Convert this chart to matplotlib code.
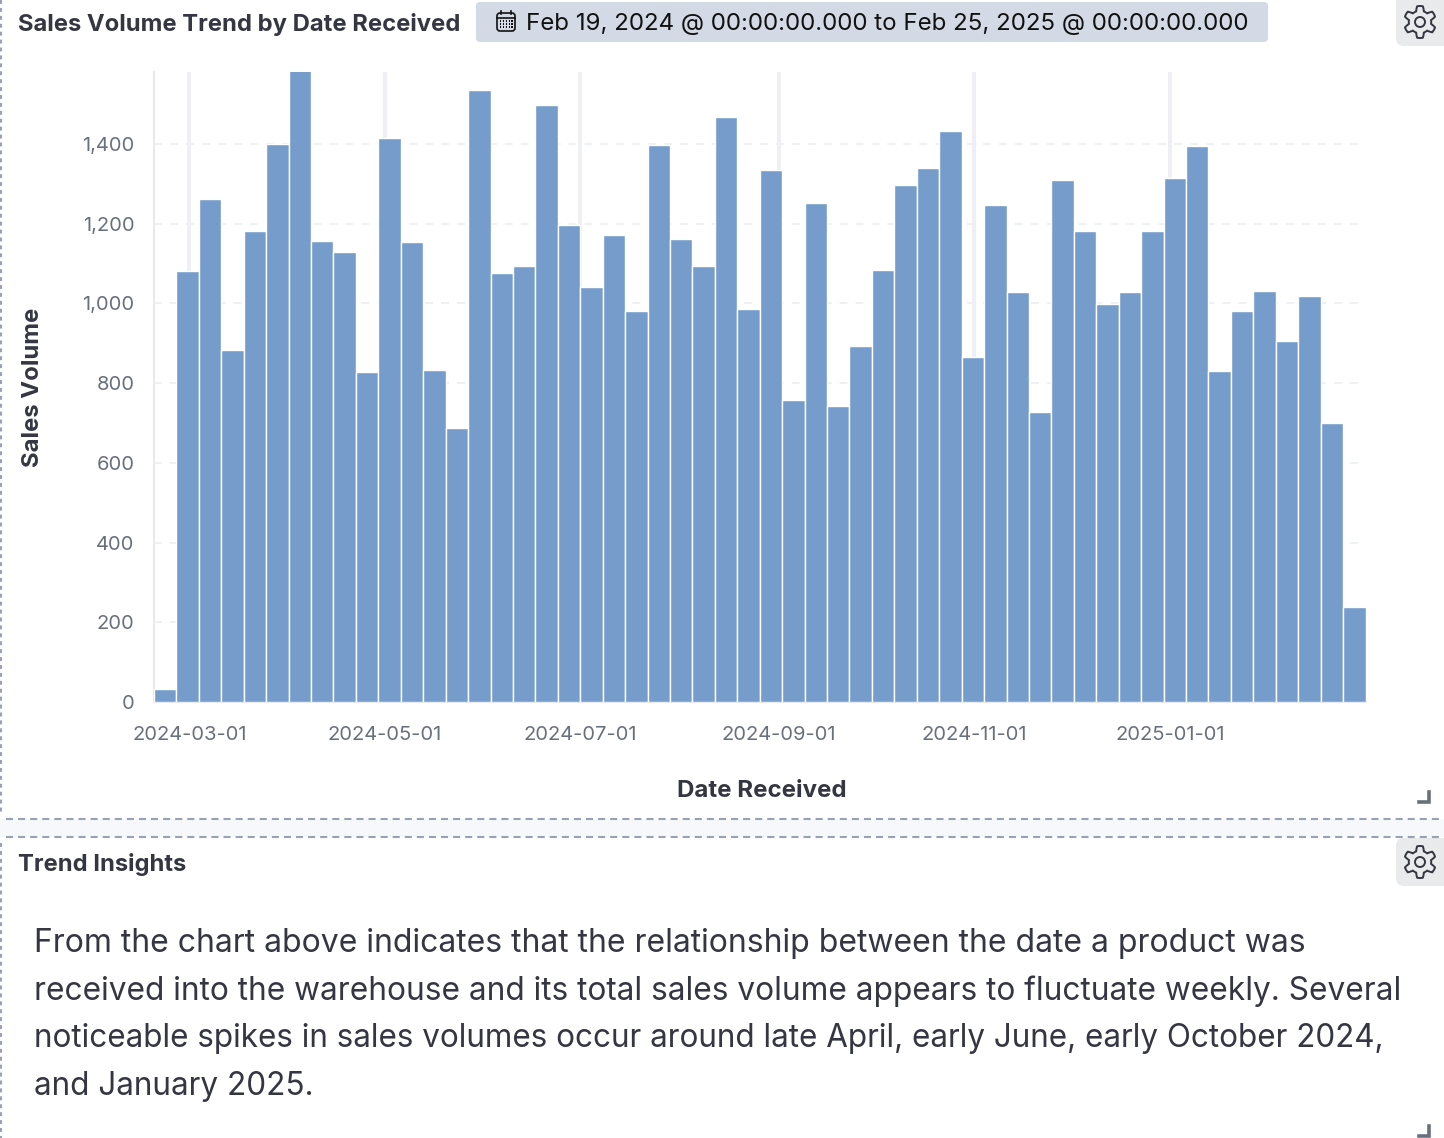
import numpy as np
import pandas as pd
import matplotlib
matplotlib.use("Agg")
import matplotlib.pyplot as plt
import matplotlib.dates as mdates
from matplotlib.patches import FancyBboxPatch, Rectangle, Polygon, Circle
from matplotlib.ticker import FuncFormatter

week_start = "2024-02-19"
sales_volume = [32, 1082, 1262, 882, 1182, 1400, 1590, 1156, 1129, 827, 1415, 1154, 832, 687,
                1536, 1076, 1094, 1498, 1197, 1041, 1171, 981, 1398, 1162, 1094, 1466, 985,
                1333, 757, 1252, 742, 892, 1084, 1297, 1338, 1433, 865, 1247, 1029, 727, 1308,
                1182, 998, 1029, 1182, 1315, 1395, 830, 981, 1032, 905, 1018, 699, 238]
y_ticks = [0, 200, 400, 600, 800, 1000, 1200, 1400]
x_ticks = ["2024-03-01", "2024-05-01", "2024-07-01", "2024-09-01", "2024-11-01", "2025-01-01"]
title = "Sales Volume Trend by Date Received"
date_range = "Feb 19, 2024 @ 00:00:00.000 to Feb 25, 2025 @ 00:00:00.000"
insight_lines = [
    "From the chart above indicates that the relationship between the date a product was",
    "received into the warehouse and its total sales volume appears to fluctuate weekly. Several",
    "noticeable spikes in sales volumes occur around late April, early June, early October 2024,",
    "and January 2025.",
]

W, H = 1444, 1138
plt.rcParams["font.family"] = ["Inter", "DejaVu Sans"]
fig = plt.figure(figsize=(W / 100, H / 100), dpi=100, facecolor="white")
bg = fig.add_axes([0, 0, 1, 1], zorder=0)
bg.set_xlim(0, W); bg.set_ylim(H, 0); bg.axis("off")

INK = "#343741"; MUTED = "#69707d"; DASH = "#98a2b3"

# panel gutter and dashed borders
bg.add_patch(Rectangle((0, 819), W, 18, fc="#f7f8fb", ec="none"))
for y in (819, 837):
    bg.plot([6, W - 4], [y, y], color=DASH, lw=1.5, dashes=(3.4, 2.4))
for y0, y1 in ((0, 813), (843, H)):
    bg.plot([1, 1], [y0, y1], color=DASH, lw=1.5, dashes=(1.9, 1.9))

# headers
bg.text(18, 24, title, fontsize=17.13, fontweight="bold", color=INK, va="center", ha="left")
bg.text(18, 864, "Trend Insights", fontsize=17.1, fontweight="bold", color=INK, va="center", ha="left")
bg.add_patch(FancyBboxPatch((476, 2), 792, 40, boxstyle="round,pad=0,rounding_size=4",
                            fc="#d3dae6", ec="none"))
bg.text(526, 24, date_range, fontsize=17.36, color="#111111", va="center", ha="left")

# calendar icon
bg.add_patch(FancyBboxPatch((497, 13), 18, 18, boxstyle="round,pad=0,rounding_size=3",
                            fc="none", ec="#111111", lw=1.2))
bg.plot([497, 515], [17.5, 17.5], color="#111111", lw=1.2)
for cx in (501, 511):
    bg.plot([cx, cx], [10.5, 14], color="#111111", lw=1.2)
for cy in (21, 24, 27):
    for cx in (500.5, 503.5, 506.5, 509.5, 512):
        bg.add_patch(Rectangle((cx - 0.7, cy - 0.7), 1.4, 1.4, fc="#111111", ec="none"))


def gear(cx, cy):
    a = np.linspace(0, 2 * np.pi, 361)
    r = 13.6 + 2.4 * np.clip(2.0 * np.cos(6 * (a + np.pi / 6)), -1, 1)
    bg.add_patch(Polygon(np.c_[cx + r * np.cos(a), cy + r * np.sin(a)], closed=True,
                         fc="none", ec=INK, lw=1.4, joinstyle="round"))
    bg.add_patch(Circle((cx, cy), 5, fc="none", ec=INK, lw=1.4))


bg.add_patch(FancyBboxPatch((1396, -8), 60, 54, boxstyle="round,pad=0,rounding_size=8",
                            fc="#e9eaec", ec="none"))
bg.add_patch(FancyBboxPatch((1396, 838), 60, 48, boxstyle="round,pad=0,rounding_size=8",
                            fc="#e9eaec", ec="none"))
gear(1420, 22); gear(1420, 862)

# resize handles
for (hx, hy) in ((1429, 802), (1429, 1136)):
    bg.plot([hx - 10, hx, hx], [hy, hy, hy - 10], color=MUTED, lw=2.6, solid_joinstyle="miter")

# insight text
for i, (line, fs) in enumerate(zip(insight_lines, (23.0, 22.78, 22.64, 22.7))):
    bg.text(34, 943 + 48 * i, line, fontsize=fs, color=INK, va="center", ha="left")

# chart
left, right, top, bottom = 154, 1365.5, 72, 702
ax = fig.add_axes([left / W, 1 - bottom / H, (right - left) / W, (bottom - top) / H], zorder=1)
ax.patch.set_alpha(0)
dates = pd.date_range(week_start, periods=len(sales_volume), freq="7D")
x = mdates.date2num(dates)
ax.bar(x, sales_volume, width=7, align="edge", color="#759cca", edgecolor="white", linewidth=1, zorder=3)
ax.set_xlim(x[0], x[-1] + 7)
ax.set_ylim(0, 1580)
ax.set_xticks(mdates.date2num(pd.to_datetime(x_ticks)))
ax.set_xticklabels(x_ticks)
ax.set_yticks(y_ticks)
ax.yaxis.set_major_formatter(FuncFormatter(lambda v, _: f"{int(v):,}"))
ax.tick_params(axis="both", length=0, labelsize=14.5, labelcolor=MUTED)
ax.tick_params(axis="x", pad=17)
ax.tick_params(axis="y", pad=14)
ax.xaxis.grid(True, color="#eef0f5", lw=2.9, zorder=1)
ax.yaxis.grid(True, color="#eef0f5", lw=1.4, dashes=(4.1, 4.1), zorder=4)
ax.set_axisbelow(False)
for s in ("top", "right"):
    ax.spines[s].set_visible(False)
for s in ("left", "bottom"):
    ax.spines[s].set_color("#e6e9f0"); ax.spines[s].set_linewidth(1.4)
fig.text(761.5 / W, 1 - 791 / H, "Date Received", fontsize=17.3, fontweight="bold", color=INK, ha="center", va="center")
fig.text(33 / W, 1 - 387 / H, "Sales Volume", fontsize=17.2, fontweight="bold", color=INK, ha="center", va="center", rotation=90)

fig.savefig("out.png", dpi=100)
